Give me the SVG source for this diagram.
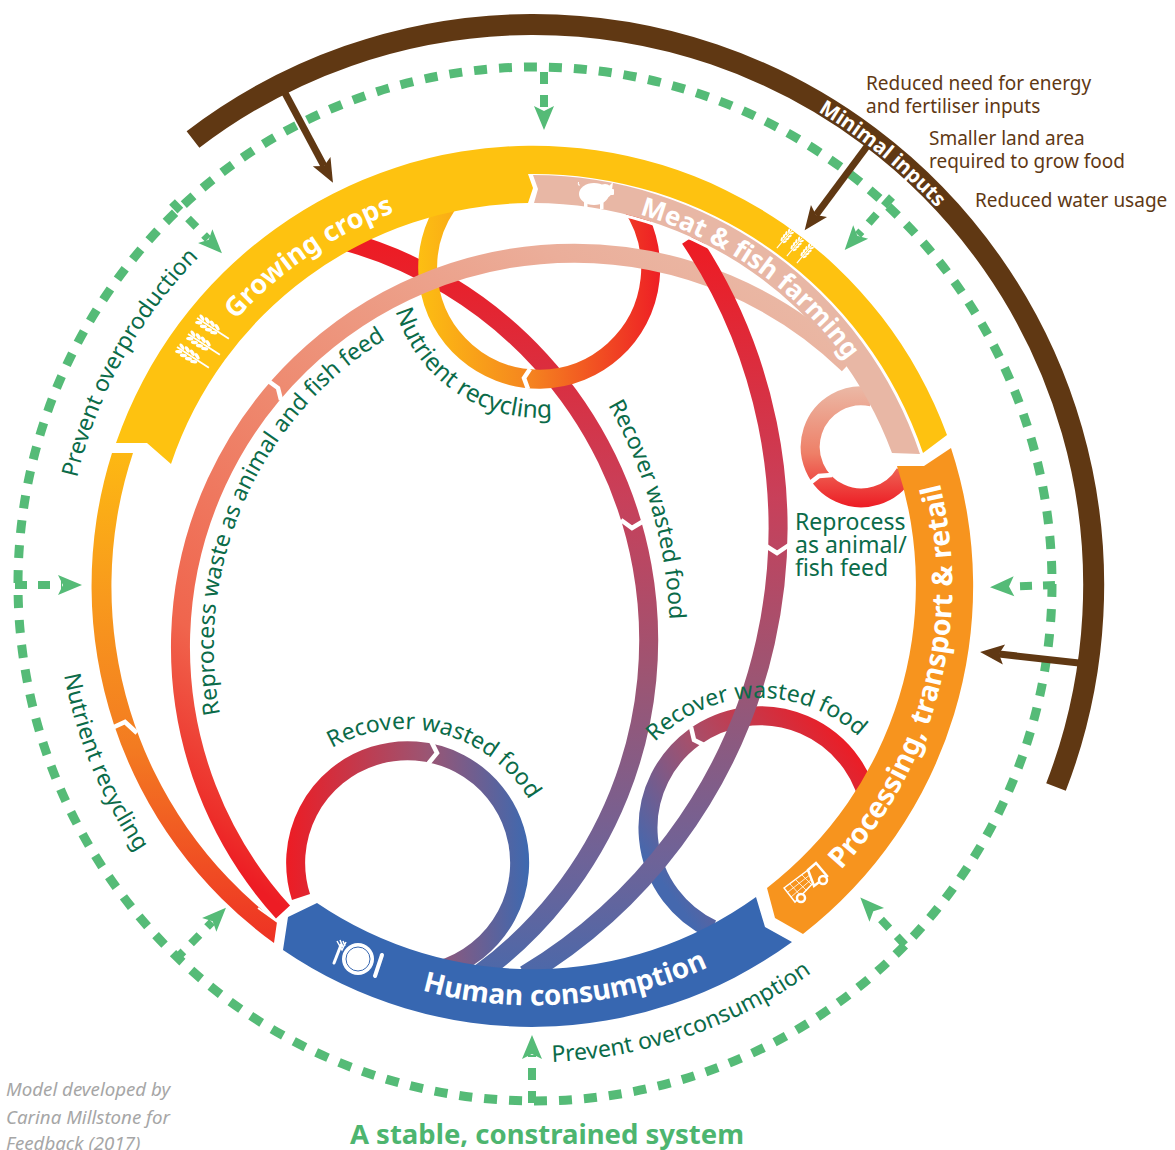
<svg xmlns="http://www.w3.org/2000/svg" xmlns:xlink="http://www.w3.org/1999/xlink" width="1175" height="1150" viewBox="0 0 1175 1150">
<style>
text{font-family:"Noto Sans","Open Sans","Liberation Sans",sans-serif}
.arc{fill:none;stroke-width:19}
.dash{fill:none;stroke:#55BB77;stroke-width:9;stroke-dasharray:13 12}
.head{fill:none;stroke:#55BB77;stroke-width:8;stroke-dasharray:12 11;marker-end:url(#gh)}
.br{fill:none;stroke:#603813;stroke-width:7;marker-end:url(#bh)}
.chev{fill:none;stroke:#fff;stroke-width:4.5}
.lab{fill:#0B6B49;font-size:23px}
.note{fill:#603813;font-size:19px}
.band{fill:#fff;font-weight:700;font-size:28px}
.credit{fill:#A6A6A6;font-size:18.7px;font-style:italic}
.ic{fill:#fff}
</style>
<defs>
<marker id="gh" markerUnits="userSpaceOnUse" markerWidth="30" markerHeight="30" refX="4" refY="15" orient="auto" overflow="visible"><path d="M0,5 L24,15 L0,25 L5,15Z" fill="#55BB77"/></marker>
<marker id="bh" markerUnits="userSpaceOnUse" markerWidth="30" markerHeight="30" refX="5" refY="15" orient="auto" overflow="visible"><path d="M0,5 L24,15 L0,25 L5,15Z" fill="#603813"/></marker>
<linearGradient id="gBig" gradientUnits="userSpaceOnUse" x1="800" y1="250" x2="300" y2="920"><stop offset="0" stop-color="#E9BBA8"/><stop offset=".18" stop-color="#EBAE9A"/><stop offset=".51" stop-color="#EE8A70"/><stop offset=".8" stop-color="#F0654D"/><stop offset=".96" stop-color="#ED2F2A"/><stop offset="1" stop-color="#ED1C24"/></linearGradient>
<linearGradient id="gRec" gradientUnits="userSpaceOnUse" x1="0" y1="245" x2="0" y2="968"><stop offset="0" stop-color="#ED1C24"/><stop offset=".35" stop-color="#C8405A"/><stop offset=".6" stop-color="#9C5573"/><stop offset=".85" stop-color="#6E6398"/><stop offset="1" stop-color="#4E68A8"/></linearGradient>
<linearGradient id="gNut" gradientUnits="userSpaceOnUse" x1="418" y1="0" x2="660" y2="0"><stop offset="0" stop-color="#FDBF12"/><stop offset=".45" stop-color="#F5861F"/><stop offset="1" stop-color="#EE1F25"/></linearGradient>
<linearGradient id="gLoopL" gradientUnits="userSpaceOnUse" x1="286" y1="0" x2="529" y2="0"><stop offset="0" stop-color="#ED1C24"/><stop offset=".58" stop-color="#9B5573"/><stop offset="1" stop-color="#3D69B0"/></linearGradient>
<linearGradient id="gLoopR" gradientUnits="userSpaceOnUse" x1="850" y1="740" x2="660" y2="880"><stop offset="0" stop-color="#ED1C24"/><stop offset=".55" stop-color="#A5506C"/><stop offset="1" stop-color="#4568AE"/></linearGradient>
<linearGradient id="gLoopF" gradientUnits="userSpaceOnUse" x1="0" y1="387" x2="0" y2="507"><stop offset="0" stop-color="#EBB8A5"/><stop offset=".55" stop-color="#EE8068"/><stop offset="1" stop-color="#ED1C24"/></linearGradient>
<linearGradient id="gThin" gradientUnits="userSpaceOnUse" x1="0" y1="453" x2="0" y2="943"><stop offset="0" stop-color="#FDB813"/><stop offset=".3" stop-color="#F8991D"/><stop offset=".6" stop-color="#F37B21"/><stop offset="1" stop-color="#EE3124"/></linearGradient>
<g id="wheat"><rect x="0" y="-.9" width="38" height="1.8" class="ic"/><g class="ic"><ellipse cx="4" cy="-3" rx="3.6" ry="1.7" transform="rotate(25 4 -3)"/><ellipse cx="4" cy="3" rx="3.6" ry="1.7" transform="rotate(-25 4 3)"/><ellipse cx="10" cy="-3.6" rx="3.6" ry="1.8" transform="rotate(25 10 -3.6)"/><ellipse cx="10" cy="3.6" rx="3.6" ry="1.8" transform="rotate(-25 10 3.6)"/><ellipse cx="16" cy="-3.6" rx="3.6" ry="1.8" transform="rotate(25 16 -3.6)"/><ellipse cx="16" cy="3.6" rx="3.6" ry="1.8" transform="rotate(-25 16 3.6)"/><ellipse cx="22" cy="-3.2" rx="3.6" ry="1.7" transform="rotate(25 22 -3.2)"/><ellipse cx="22" cy="3.2" rx="3.6" ry="1.7" transform="rotate(-25 22 3.2)"/></g></g>
<path id="tGrow" d="M236,320 A398,398 0 0 1 533,187.5"/>
<path id="tMeat" d="M639.4,214.5 A386,386 0 0 1 906,485.5"/>
<path id="tHuman" d="M422,990.5 A420,420 0 0 0 853,857.5"/>
<path id="tProc" d="M841,870 A419,419 0 0 0 927,442"/>
<path id="tMin" d="M818,111.5 A553,553 0 0 1 1000,289.5"/>
<path id="tOverP" d="M77,478 A468,468 0 0 1 299,180"/>
<path id="tRepro" d="M220,714 A361,361 0 0 1 574,286"/>
<path id="tNut1" d="M395.5,311 A150,150 0 0 0 620,394"/>
<path id="tNut2" d="M64,675 A478,478 0 0 0 300,1002.5"/>
<path id="tRec1" d="M608,405 A478,478 0 0 1 670,645"/>
<path id="tRec2" d="M332,748 A146,146 0 0 1 550,875"/>
<path id="tRec3" d="M655,742 A146.4,146.4 0 0 1 906,844"/>
<path id="tOverC" d="M552,1062 A478,478 0 0 0 849,943"/>
</defs>
<g id="connectors">
<circle class="dash" cx="535" cy="584" r="517"/>
<path class="arc" stroke="url(#gRec)" d="M345,241 A414,414 0 0 1 478,975"/>
<path class="arc" stroke="url(#gNut)" d="M447,205 A111.5,111.5 0 1 0 630,203"/>
<path class="arc" stroke="url(#gBig)" d="M283,912 A393.78,393.78 0 0 1 848.5,364.4"/>
<path class="arc" stroke="url(#gLoopL)" d="M301,897 A112,112 0 1 1 440,970"/>
<path class="arc" stroke="url(#gLoopR)" d="M871,813 A112,112 0 1 0 712,929"/>
<path class="arc" stroke="url(#gLoopF)" stroke-width="18" d="M872,397 A51,51 0 1 0 905,473"/>
<path class="arc" stroke="url(#gRec)" d="M690,238.5 A521,521 0 0 1 525,975"/>
<path fill="none" stroke="#fff" stroke-width="3" d="M599,210.3 A381,381 0 0 1 735,262.4"/>
<path fill="url(#gThin)" d="M112,453 A441,441 0 0 0 274,943 L277,922 A423,423 0 0 1 133,453Z"/>
<path fill="none" stroke="#fff" stroke-width="2" d="M258,908 L279,923"/>
<polyline class="chev" points="530,369 524,378 528,389"/>
<polyline class="chev" points="267,380 278,388 281,400"/>
<polyline class="chev" points="766,546 777,553 789,545"/>
<polyline class="chev" points="621,520 632,528 642,522"/>
<polyline class="chev" points="431,741 437,753 428,764"/>
<polyline class="chev" points="691,727 694,740 706,746"/>
<polyline class="chev" points="810,483 819,476 832,475"/>
<polyline class="chev" points="114,727 125,722 137,733"/>
<line class="br" x1="285" y1="93" x2="324" y2="166"/>
<line class="br" x1="868" y1="145" x2="816" y2="215"/>
<line class="br" x1="1079" y1="663" x2="999" y2="654"/>
<line class="head" x1="544" y1="72" x2="544" y2="110"/>
<line class="head" x1="15" y1="585" x2="62" y2="585"/>
<line class="head" x1="172" y1="202" x2="208" y2="239"/>
<line class="head" x1="892" y1="197" x2="858" y2="235"/>
<line class="head" x1="1055" y1="585" x2="1010" y2="586.5"/>
<line class="head" x1="175" y1="960" x2="212" y2="922"/>
<line class="head" x1="905" y1="945" x2="874" y2="912"/>
<line class="head" x1="532" y1="1103" x2="532" y2="1055"/>
</g>
<g id="growing-crops">
<path fill="#FEC210" d="M116,443 A441,441 0 0 1 947,435 L923,453 A411,411 0 0 0 528,174 L533,188 L528,203 A382.5,382.5 0 0 0 171,464 L147,443Z"/>
<use href="#wheat" transform="translate(197,318) rotate(33)"/>
<use href="#wheat" transform="translate(188,334) rotate(33)"/>
<use href="#wheat" transform="translate(177,347) rotate(33)"/>
<use href="#wheat" transform="translate(792,230) rotate(130) scale(.62)"/>
<use href="#wheat" transform="translate(802,238) rotate(130) scale(.62)"/>
<use href="#wheat" transform="translate(812,245) rotate(130) scale(.62)"/>
<text class="band" style="font-size:27px"><textPath href="#tGrow">Growing crops</textPath></text>
</g>
<g id="meat-fish-farming">
<path fill="#E8B7A5" d="M533,175 L538,189 L534,203 A382.5,382.5 0 0 1 892,453 L920,454 A409,409 0 0 0 533,175Z"/>
<g class="ic"><ellipse cx="594" cy="194" rx="15" ry="11"/><circle cx="605" cy="191" r="7"/><path d="M609,186 L613,182 L612,190Z"/><rect x="610" y="189" width="4" height="6" rx="1"/><rect x="584" y="200" width="3.5" height="9"/><rect x="600" y="200" width="3.5" height="9"/><path d="M579,186 q-2,-2 -1,-4 l1,0 q-1,2 1,3Z"/></g>
<text class="band" style="font-size:26px"><textPath href="#tMeat">Meat &amp; fish farming</textPath></text>
</g>
<g id="processing-transport-retail">
<path fill="#F7941E" d="M897,466 L924,466 L951,448 A441,441 0 0 1 803,934 L775,918 L767,888 A383,383 0 0 0 897,466Z"/>
<g fill="#F7941E" stroke="#fff" stroke-width="1.5"><path d="M784,888 L808,870 L815,881 L795,902Z" fill="none"/><path d="M790,884 L801,896 M796,880 L807,891 M802,875 L812,885 M788,892 L811,874 M791,897 L813,878" fill="none" stroke-width=".8"/><path d="M808,870 L816,863 L827,876 L814,886Z" stroke-width="2.5"/></g>
<circle cx="801" cy="898" r="4" fill="#F7941E" stroke="#fff" stroke-width="2.5"/><circle cx="823" cy="880" r="4" fill="#F7941E" stroke="#fff" stroke-width="2.5"/>
<text class="band" style="font-size:28.5px"><textPath href="#tProc">Processing, transport &amp; retail</textPath></text>
</g>
<g id="human-consumption">
<path fill="#3767B1" d="M283,950 L288,917 L317,903 A383,383 0 0 0 756,897 L765,927 L792,942 A441,441 0 0 1 283,950Z"/>
<circle cx="358" cy="959" r="16" class="ic"/><circle cx="358" cy="959" r="12" fill="none" stroke="#3767B1" stroke-width="1"/>
<path d="M341,945 L334,963" stroke="#fff" stroke-width="3" stroke-linecap="round"/><path d="M337,941 L342,950 L346,942 M340,940 L343,947 M343,941 L345,946" stroke="#fff" stroke-width="1.5" fill="none"/>
<path d="M382,955 L375,976" stroke="#fff" stroke-width="4" stroke-linecap="round"/>
<text class="band"><textPath href="#tHuman">Human consumption</textPath></text>
</g>
<g id="minimal-inputs">
<path fill="none" stroke="#603813" stroke-width="21" d="M193,139.5 A560.5,560.5 0 0 1 1056,787"/>
<text fill="#fff" font-weight="700" font-size="20.5"><textPath href="#tMin">Minimal inputs</textPath></text>
<text class="note" x="866" y="90">Reduced need for energy</text>
<text class="note" x="866" y="113">and fertiliser inputs</text>
<text class="note" x="929" y="145">Smaller land area</text>
<text class="note" x="929" y="168">required to grow food</text>
<text class="note" x="975" y="207">Reduced water usage</text>
</g>
<g id="labels">
<text class="lab"><textPath href="#tOverP">Prevent overproduction</textPath></text>
<text class="lab"><textPath href="#tRepro">Reprocess waste as animal and fish feed</textPath></text>
<text class="lab" style="font-size:24.4px"><textPath href="#tNut1">Nutrient recycling</textPath></text>
<text class="lab"><textPath href="#tNut2">Nutrient recycling</textPath></text>
<text class="lab"><textPath href="#tRec1">Recover wasted food</textPath></text>
<text class="lab"><textPath href="#tRec2">Recover wasted food</textPath></text>
<text class="lab"><textPath href="#tRec3">Recover wasted food</textPath></text>
<text class="lab"><textPath href="#tOverC">Prevent overconsumption</textPath></text>
<text class="lab" x="795" y="530">Reprocess</text>
<text class="lab" x="795" y="553">as animal/</text>
<text class="lab" x="795" y="576">fish feed</text>
<text x="547" y="1144" text-anchor="middle" fill="#4DB56F" font-weight="700" font-size="27.5">A stable, constrained system</text>
<text class="credit" x="6" y="1096">Model developed by</text>
<text class="credit" x="6" y="1124">Carina Millstone for</text>
<text class="credit" x="6" y="1150">Feedback (2017)</text>
</g>
</svg>
